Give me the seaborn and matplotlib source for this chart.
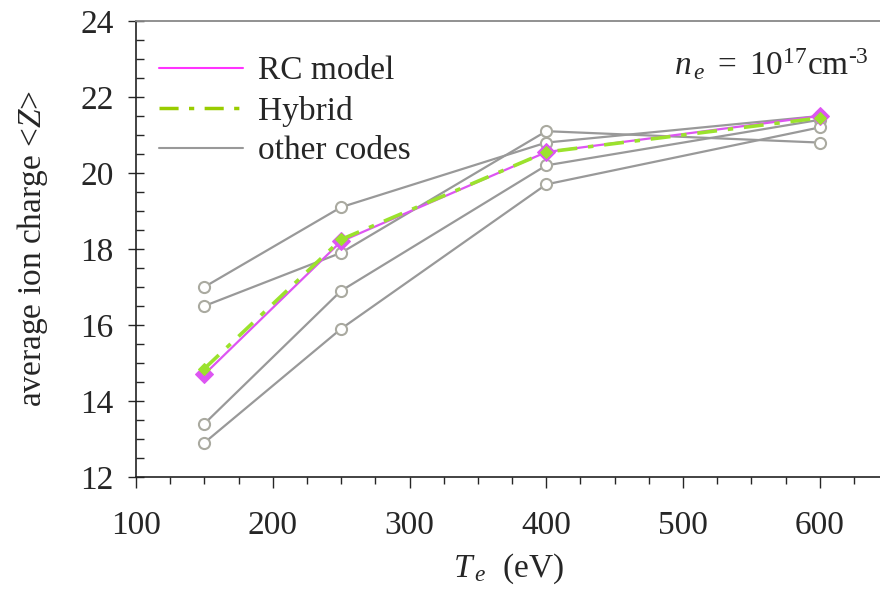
import pandas as pd
import matplotlib
matplotlib.use("Agg")
import matplotlib.pyplot as plt
import seaborn as sns
from matplotlib.lines import Line2D
from matplotlib.ticker import MultipleLocator

# Data
te = [150, 250, 400, 600]
rc_model = [14.7, 18.2, 20.55, 21.5]
hybrid = [14.85, 18.25, 20.55, 21.45]
other_codes = {
    "code1": [17.0, 19.1, 20.8, 21.5],
    "code2": [16.5, 17.9, 21.1, 20.8],
    "code3": [13.4, 16.9, 20.2, 21.4],
    "code4": [12.9, 15.9, 19.7, 21.2],
}

df_other = pd.DataFrame(
    [(name, t, z) for name, vals in other_codes.items() for t, z in zip(te, vals)],
    columns=["code", "Te", "Z"],
)
df_rc = pd.DataFrame({"Te": te, "Z": rc_model})
df_hy = pd.DataFrame({"Te": te, "Z": hybrid})

sns.set_style("ticks")
plt.rcParams["font.family"] = ["Liberation Serif", "DejaVu Serif"]
plt.rcParams["mathtext.fontset"] = "custom"
plt.rcParams["mathtext.rm"] = "Liberation Serif"
plt.rcParams["mathtext.it"] = "Liberation Serif:italic"

fs = 24
dashdot = (0, (5.5, 3, 1.5, 3))

fig = plt.figure(figsize=(8.8, 5.96), dpi=100)
ax = fig.add_axes([0.1545, 0.1997, 0.8455, 0.7651])

gray = "#999999"
magenta = "#dd55f2"
green = "#9be22d"

sns.lineplot(data=df_other, x="Te", y="Z", units="code", estimator=None,
             color=gray, lw=1.6, marker="o", ms=8, mfc="white", mec="#aaaaa0",
             mew=1.5, legend=False, ax=ax)
sns.lineplot(data=df_rc, x="Te", y="Z", color=magenta, lw=1.6, marker="D",
             ms=9, mfc=magenta, mec=magenta, legend=False, ax=ax)
sns.lineplot(data=df_hy, x="Te", y="Z", color=green, lw=2.6,
             linestyle=dashdot, marker="D", ms=6,
             mfc=green, mec=green, legend=False, ax=ax)

ax.set_xlim(100, 644)
ax.set_ylim(12, 24)
ax.xaxis.set_major_locator(MultipleLocator(100))
ax.xaxis.set_minor_locator(MultipleLocator(25))
ax.yaxis.set_major_locator(MultipleLocator(2))
ax.yaxis.set_minor_locator(MultipleLocator(0.5))

ax.tick_params(axis="x", which="major", direction="out", length=8, width=1,
               labelsize=fs, pad=16)
ax.tick_params(axis="x", which="minor", direction="out", length=5, width=1)
ax.tick_params(axis="y", which="major", direction="inout", length=12, width=1,
               labelsize=fs, pad=10)
ax.tick_params(axis="y", which="minor", direction="in", length=6, width=1)

ax.spines["right"].set_visible(False)
ax.spines["top"].set_color("#888888")
ax.spines["top"].set_linewidth(1.3)
for s in ("left", "bottom"):
    ax.spines[s].set_color("#222222")
    ax.spines[s].set_linewidth(1.2)

ax.set_xlabel(r"$T_{\,e}$  (eV)", fontsize=fs, labelpad=8)
ax.set_ylabel(r"average ion charge <$Z$>", fontsize=fs, labelpad=22)

ax.text(0.985, 0.905, r"$n_{\,e}\ =\ 10^{17}\mathrm{cm}^{\text{-3}}$",
        transform=ax.transAxes, ha="right", va="center", fontsize=fs)

handles = [
    Line2D([], [], color="#ff33ff", lw=1.5),
    Line2D([], [], color="#99cc00", lw=2.5, linestyle=dashdot),
    Line2D([], [], color=gray, lw=1.5),
]
ax.legend(handles, ["RC model", "Hybrid", "other codes"], loc="upper left",
          bbox_to_anchor=(0.0, 0.975), frameon=False, fontsize=fs,
          handlelength=2.5, handletextpad=0.45, labelspacing=0.28,
          borderaxespad=0.3)

fig.savefig("out.png", dpi=100)
